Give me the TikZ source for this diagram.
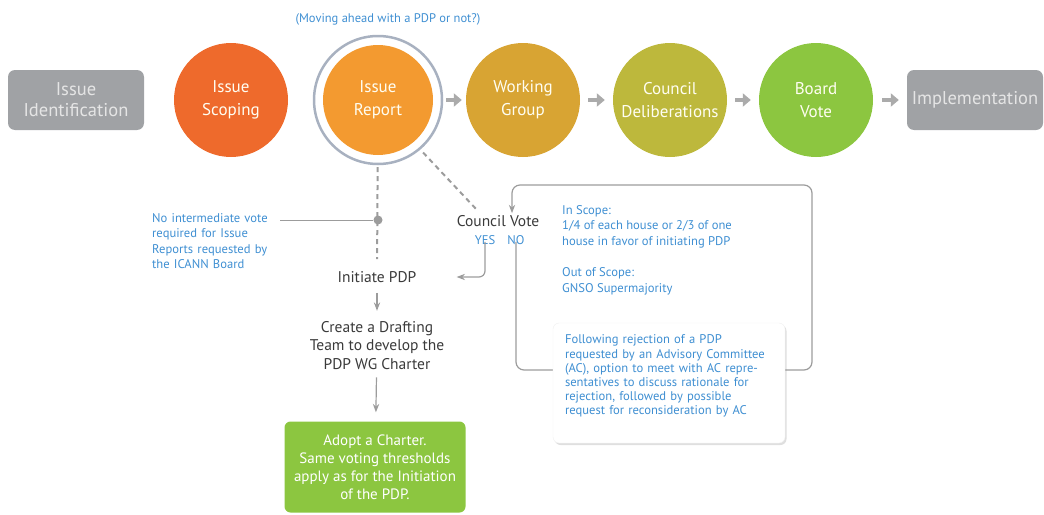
\documentclass[tikz,border=0pt]{standalone}
\usepackage{fontspec}
\setmainfont{PT Sans}
\usetikzlibrary{arrows.meta,positioning,shadows}
\definecolor{stepgray}{HTML}{A0A2A5}
\definecolor{scopeorange}{HTML}{EE6A2C}
\definecolor{reportorange}{HTML}{F39A30}
\definecolor{groupgold}{HTML}{D8A433}
\definecolor{councilolive}{HTML}{BDB83C}
\definecolor{boardgreen}{HTML}{8CC640}
\definecolor{noteblue}{HTML}{3F8FD2}
\definecolor{linegray}{HTML}{9C9C9C}
\definecolor{ringgray}{HTML}{A8B1C0}
\definecolor{textdark}{HTML}{3A3A3A}
\tikzset{>=Stealth}

\begin{document}
\begin{tikzpicture}[x=1pt,y=-1pt]
        % top row = phases, bottom = council vote and charter
        \tikzstyle{phase}=[circle, inner sep=0pt, minimum size=114pt, align=center, text=white!95!yellow, font=\fontsize{17}{23}\selectfont]
        \tikzstyle{endbox}=[rounded corners=7pt, fill=stepgray, minimum width=136pt, minimum height=60pt, align=center, text=white!90!black, font=\fontsize{18.5}{21}\selectfont]
        \tikzstyle{stepline}=[-{Triangle[length=8pt,width=13pt]}, line width=4.5pt, linegray!85, shorten <=8pt, shorten >=8pt]
        \tikzstyle{bluetext}=[text=noteblue, inner sep=0pt, align=left, font=\fontsize{12.6}{15.5}\selectfont]
        \tikzstyle{darktext}=[text=textdark, inner sep=2pt, align=center, font=\fontsize{15.5}{18.5}\selectfont]
        \tikzstyle{thinarrow}=[->, linegray, line width=1.2pt]
        \tikzstyle{dashline}=[linegray, line width=2pt, dash pattern=on 5pt off 4pt]
        \useasboundingbox (0,0) rectangle (1044,514);

        \node[endbox] (ident) at (76,100) {Issue\\Identification};
        \node[phase, fill=scopeorange] (scoping) at (231,100) {Issue\\Scoping};
        \node[phase, fill=reportorange, minimum size=110pt] (report) at (378,100) {Issue\\Report};
        \draw[ringgray, line width=2.5pt] (report.center) circle[radius=64pt];
        \node[phase, fill=groupgold] (group) at (523,100) {Working\\Group};
        \node[phase, fill=councilolive] (council) at (670,100) {Council\\Deliberations};
        \node[phase, fill=boardgreen] (board) at (816,100) {Board\\Vote};
        \node[endbox] (impl) at (975,100) {Implementation};
        \node[bluetext, font=\fontsize{12.5}{14}\selectfont] (askpdp) at (388,19) {(Moving ahead with a PDP or not?)};

        \draw[stepline, shorten <=13pt, shorten >=4pt] (report) -- (group);
        \draw[stepline] (group) -- (council);
        \draw[stepline] (council) -- (board);
        \draw[stepline, shorten <=9pt] (board) -- (impl);

        % board requested reports skip the vote
        \node[darktext] (initiate) at (377,277) {Initiate PDP};
        \draw[dashline, shorten <=12pt, shorten >=10pt] (report) -- (initiate);
        \node[circle, fill=linegray, inner sep=0pt, minimum size=9pt] (junction) at (378,220) {};
        \node[bluetext, text width=124pt, anchor=north west] (icann) at (152,213) {No intermediate vote\\required for Issue\\Reports requested by\\the ICANN Board};
        \draw[linegray, line width=1pt] ([xshift=4pt]icann.east |- junction) -- (junction);

        \node[darktext] (vote) at (498,221) {Council Vote};
        \node[bluetext] (yes) at (485,240) {YES};
        \node[bluetext] (no) at (516,240) {NO};
        \draw[dashline, shorten <=14pt, shorten >=4pt] (report.-50) -- ([xshift=-18pt]vote.north);
        \draw[thinarrow, rounded corners=6pt, shorten >=38pt] ([yshift=3pt]yes.south) |- (initiate.east);

        \node[darktext, below=34pt of initiate] (drafting) {Create a Drafting\\Team to develop the\\PDP WG Charter};
        \draw[thinarrow, shorten <=8pt, shorten >=8pt] (initiate) -- (drafting);
        \node[rounded corners=6pt, fill=boardgreen, text=white, align=center, minimum width=181pt, minimum height=91pt, font=\fontsize{15}{18}\selectfont] (charter) at (375,467) {Adopt a Charter.\\Same voting thresholds\\apply as for the Initiation\\of the PDP.};
        \draw[thinarrow, shorten <=6pt, shorten >=9pt] (drafting) -- (charter);

        % NO loops back round to the vote
        \coordinate (loopSE) at (812,370);
        \coordinate (loopNE) at (812,185);
        \draw[thinarrow, rounded corners=8pt] ([yshift=3pt]no.south) |- (loopSE) -- (loopNE) -| ([xshift=14pt]vote.north);
        \node[bluetext, anchor=north west] (scope) at (562,205) {In Scope:\\1/4 of each house or 2/3 of one\\house in favor of initiating PDP\\[16pt]Out of Scope:\\GNSO Supermajority};
        \node[rounded corners=6pt, fill=white, draw=black!6, drop shadow={opacity=0.25, shadow xshift=1.5pt, shadow yshift=-2pt}, minimum width=232pt, minimum height=120pt, text width=208pt, bluetext, font=\fontsize{12.6}{14.2}\selectfont] (reject) at (669,383) {Following rejection of a PDP\\requested by an Advisory Committee\\(AC), option to meet with AC repre-\\sentatives to discuss rationale for\\rejection, followed by possible\\request for reconsideration by AC\\[2pt]\mbox{}};
\end{tikzpicture}
\end{document}
